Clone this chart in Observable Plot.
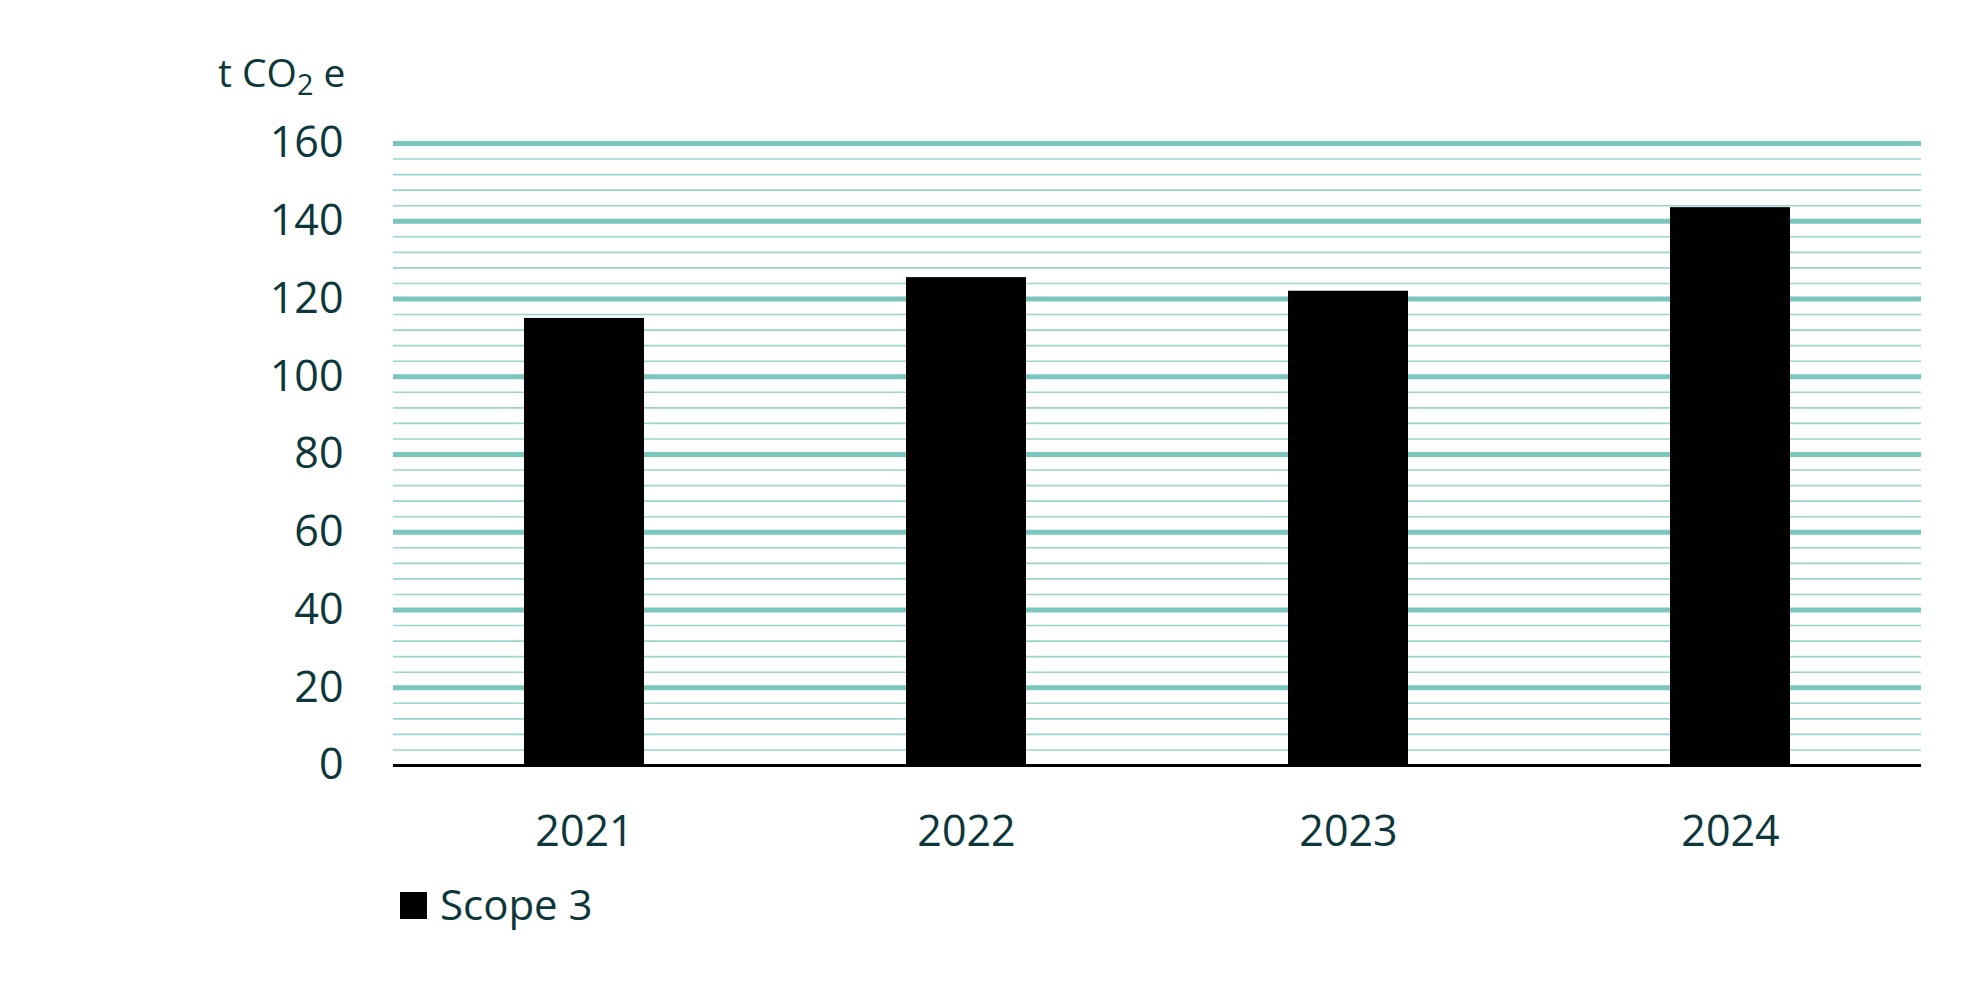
<!DOCTYPE html>
<html>
<head>
<meta charset="utf-8">
<script src="https://cdn.jsdelivr.net/npm/d3@7"></script>
<script src="https://cdn.jsdelivr.net/npm/@observablehq/plot@0.6"></script>
<style>
  html, body { margin: 0; padding: 0; background: #ffffff; }
  #wrap { position: relative; width: 1983px; height: 996px; font-family: "Open Sans", sans-serif; color: #0d373b; }
  #title { position: absolute; left: 218px; top: 52px; font-size: 39px; line-height: 40px; white-space: nowrap; }
  #title sub { font-size: 0.74em; vertical-align: -8px; line-height: 0; }
  #chart { position: absolute; left: 0; top: 100px; }
  #legend { position: absolute; left: 400px; top: 884px; font-size: 42px; line-height: 40px; white-space: nowrap; }
  #legend .sw { position: absolute; left: 0; top: 8px; width: 27px; height: 27px; background: #000; }
  #legend .lb { position: absolute; left: 40px; top: 0; }
</style>
</head>
<body>
<div id="wrap">
  <div id="title">t CO<sub>2</sub> e</div>
  <div id="chart"></div>
  <div id="legend"><span class="sw"></span><span class="lb">Scope 3</span></div>
</div>
<script>
const years = ["2021", "2022", "2023", "2024"];
const scope3 = [115, 125.5, 122, 143.5];
const yTicks = [0, 20, 40, 60, 80, 100, 120, 140, 160];
const minorTicks = d3.range(0, 161, 4).filter(v => v % 20 !== 0);

const data = years.map((y, i) => ({year: y, value: scope3[i]}));

const chart = Plot.plot({
  width: 1983,
  height: 770,
  marginLeft: 393,
  marginRight: 62,
  marginTop: 43,
  marginBottom: 105,
  style: {fontSize: "43px", fontFamily: "'Open Sans', sans-serif", color: "#0d373b", background: "transparent"},
  x: {type: "band", domain: years, paddingInner: 0.687, paddingOuter: 0.3435, label: null, tickSize: 0, tickPadding: 50},
  y: {domain: [0, 160], ticks: yTicks, label: null, tickSize: 0, tickPadding: 50, tickFormat: d => String(d)},
  marks: [
    Plot.ruleY(minorTicks, {stroke: "#98d5cd", strokeWidth: 1.6}),
    Plot.ruleY(yTicks.filter(v => v > 0), {stroke: "#7bc7bd", strokeWidth: 5}),
    Plot.barY(data, {x: "year", y: "value", fill: "#000000"}),
    Plot.ruleY([0], {stroke: "#000000", strokeWidth: 3})
  ]
});
document.getElementById("chart").appendChild(chart);
</script>
</body>
</html>
